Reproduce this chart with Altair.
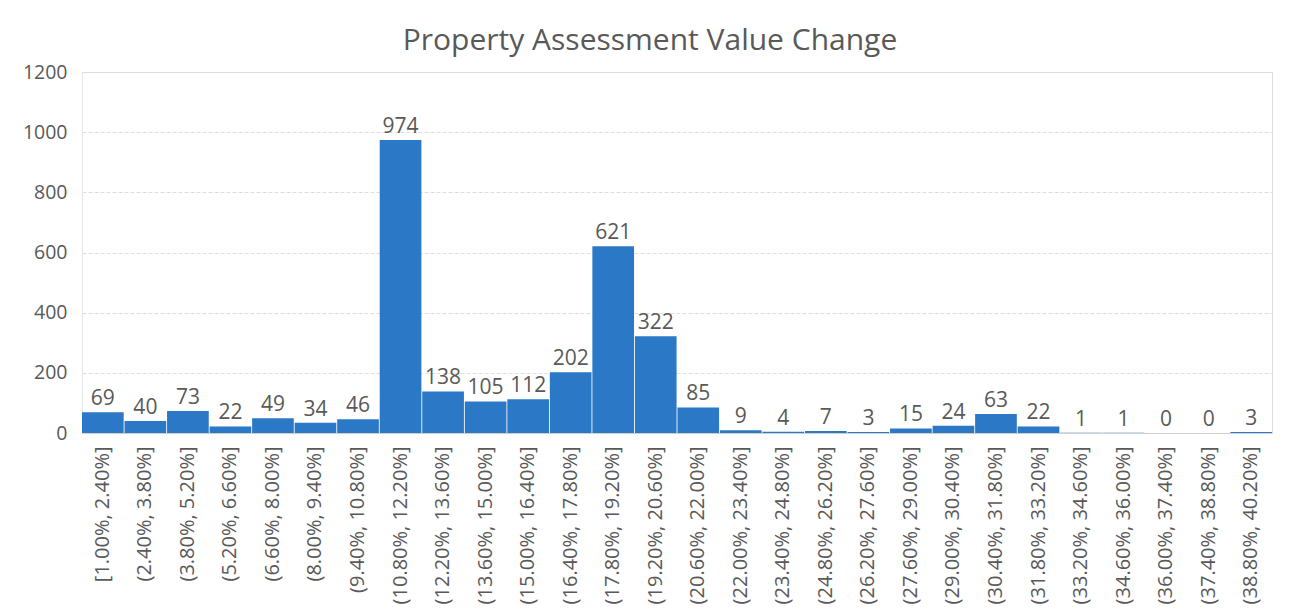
import altair as alt
import pandas as pd

bins = ["[1.00%, 2.40%]", "(2.40%, 3.80%]", "(3.80%, 5.20%]", "(5.20%, 6.60%]",
        "(6.60%, 8.00%]", "(8.00%, 9.40%]", "(9.40%, 10.80%]", "(10.80%, 12.20%]",
        "(12.20%, 13.60%]", "(13.60%, 15.00%]", "(15.00%, 16.40%]", "(16.40%, 17.80%]",
        "(17.80%, 19.20%]", "(19.20%, 20.60%]", "(20.60%, 22.00%]", "(22.00%, 23.40%]",
        "(23.40%, 24.80%]", "(24.80%, 26.20%]", "(26.20%, 27.60%]", "(27.60%, 29.00%]",
        "(29.00%, 30.40%]", "(30.40%, 31.80%]", "(31.80%, 33.20%]", "(33.20%, 34.60%]",
        "(34.60%, 36.00%]", "(36.00%, 37.40%]", "(37.40%, 38.80%]", "(38.80%, 40.20%]"]
counts = [69, 40, 73, 22, 49, 34, 46, 974, 138, 105, 112, 202, 621, 322, 85, 9,
          4, 7, 3, 15, 24, 63, 22, 1, 1, 0, 0, 3]
y_ticks = [0, 200, 400, 600, 800, 1000, 1200]

df = pd.DataFrame({"bin": bins, "count": counts})
FONT = "Open Sans"
GRAY = "#595959"

x = alt.X("bin:N", sort=bins, title=None,
          scale=alt.Scale(paddingInner=0.02, paddingOuter=0.0),
          axis=alt.Axis(labelAngle=-90, labelFontSize=20, labelColor=GRAY, labelFont=FONT,
                        ticks=False, labelPadding=13, domainColor="#d0d0d0",
                        labelAlign="right", labelBaseline="middle", labelLimit=300))
y = alt.Y("count:Q", title=None,
          scale=alt.Scale(domain=[0, 1200], nice=False),
          axis=alt.Axis(values=y_ticks, format="d", labelFontSize=19.5, labelColor=GRAY,
                        labelFont=FONT, ticks=False, labelPadding=15, domain=True,
                        domainColor="#e4e4e4", gridColor="#dedede", gridDash=[4, 2]))

bars = alt.Chart(df).mark_bar(color="#2B78C6").encode(x=x, y=y)
labels = alt.Chart(df).mark_text(dy=-7, fontSize=21, color=GRAY, font=FONT,
                                 baseline="alphabetic").encode(
    x=alt.X("bin:N", sort=bins), y="count:Q", text="count:Q")

chart = alt.layer(bars, labels).properties(
    width=1190, height=361,
    title=alt.TitleParams("Property Assessment Value Change", fontSize=30, font=FONT,
                          color=GRAY, fontWeight="normal", anchor="middle", dx=-27, offset=6),
    autosize=alt.AutoSizeParams(type="none"),
    padding={"left": 82, "top": 72, "right": 17, "bottom": 180},
).configure_view(stroke=None).configure(background="white")

chart.save("out.html", embed_options={"renderer": "svg", "actions": False})
